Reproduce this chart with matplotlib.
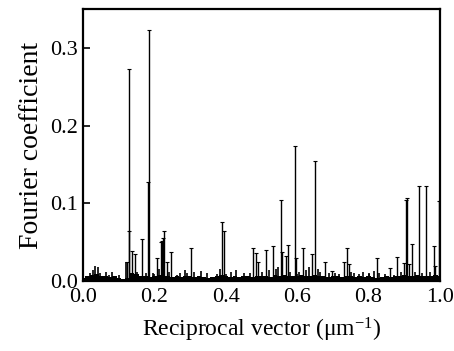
import numpy as np
import matplotlib
matplotlib.use("Agg")
import matplotlib.pyplot as plt

plt.rcParams['font.family'] = ['Liberation Serif', 'DejaVu Serif']
plt.rcParams['mathtext.fontset'] = 'custom'
plt.rcParams['mathtext.rm'] = 'Liberation Serif'
plt.rcParams['mathtext.default'] = 'regular'

# main peaks (reciprocal vector, coefficient)
peak_x = [0.124, 0.128, 0.130, 0.138, 0.146, 0.165, 0.183, 0.186, 0.206, 0.218,
          0.222, 0.225, 0.228, 0.234, 0.247, 0.303, 0.388, 0.395, 0.477, 0.485,
          0.491, 0.512, 0.533, 0.554, 0.558, 0.568, 0.573, 0.595, 0.598, 0.615,
          0.642, 0.650, 0.677, 0.697, 0.732, 0.740, 0.745, 0.823, 0.860, 0.880,
          0.898, 0.905, 0.908, 0.913, 0.921, 0.941, 0.962, 0.982, 0.987, 0.997]
peak_h = [0.025, 0.065, 0.272, 0.039, 0.035, 0.054, 0.127, 0.323, 0.030, 0.050,
          0.052, 0.055, 0.065, 0.025, 0.037, 0.043, 0.076, 0.065, 0.043, 0.036,
          0.024, 0.040, 0.045, 0.104, 0.038, 0.032, 0.047, 0.174, 0.030, 0.043,
          0.035, 0.154, 0.025, 0.013, 0.025, 0.043, 0.022, 0.030, 0.017, 0.031,
          0.023, 0.104, 0.107, 0.022, 0.048, 0.122, 0.122, 0.045, 0.020, 0.103]

# small spikes above the noise floor
small_x = [0.020, 0.027, 0.034, 0.041, 0.048, 0.064, 0.072, 0.080, 0.090, 0.100,
           0.121, 0.152, 0.175, 0.196, 0.212, 0.240, 0.262, 0.272, 0.286, 0.292,
           0.312, 0.330, 0.346, 0.375, 0.384, 0.414, 0.428, 0.450, 0.468, 0.500,
           0.520, 0.540, 0.545, 0.580, 0.605, 0.625, 0.632, 0.658, 0.665, 0.688,
           0.705, 0.718, 0.752, 0.760, 0.772, 0.784, 0.800, 0.815, 0.830, 0.845,
           0.870, 0.892, 0.930, 0.950, 0.972]
small_h = [0.010, 0.014, 0.019, 0.018, 0.011, 0.012, 0.008, 0.012, 0.007, 0.008,
           0.024, 0.012, 0.010, 0.010, 0.015, 0.012, 0.008, 0.010, 0.014, 0.011,
           0.012, 0.013, 0.011, 0.009, 0.016, 0.012, 0.014, 0.010, 0.010, 0.012,
           0.014, 0.015, 0.018, 0.012, 0.012, 0.014, 0.018, 0.015, 0.012, 0.010,
           0.010, 0.009, 0.012, 0.010, 0.009, 0.012, 0.011, 0.013, 0.010, 0.009,
           0.008, 0.012, 0.012, 0.010, 0.012]

# noise floor, every 0.0125
floor_h = [0.004, 0.006, 0.008, 0.009, 0.007, 0.006, 0.005, 0.006, 0.004, 0.003,
           0.004, 0.010, 0.009, 0.007, 0.006, 0.005, 0.006, 0.008, 0.007, 0.006,
           0.005, 0.006, 0.005, 0.006, 0.007, 0.005, 0.006, 0.005, 0.004, 0.005,
           0.006, 0.008, 0.007, 0.005, 0.006, 0.005, 0.007, 0.006, 0.005, 0.006,
           0.007, 0.006, 0.005, 0.008, 0.006, 0.008, 0.007, 0.006, 0.007, 0.008,
           0.006, 0.007, 0.008, 0.007, 0.006, 0.005, 0.007, 0.006, 0.005, 0.006,
           0.007, 0.005, 0.006, 0.005, 0.006, 0.005, 0.004, 0.005, 0.006, 0.005,
           0.006, 0.007, 0.008, 0.007, 0.006, 0.008, 0.007, 0.006, 0.007, 0.008,
           0.006]
floor_x = np.linspace(0, 1, len(floor_h))

fig = plt.figure(figsize=(4.54, 3.51), dpi=100)
ax = fig.add_axes([0.183, 0.199, 0.786, 0.776])

ax.fill_between(floor_x, 0, floor_h, step='mid', color='black', lw=0)
ax.vlines(small_x, 0, small_h, color='black', lw=1.2)
ax.vlines(peak_x, 0, peak_h, color='black', lw=1.0)
ax.plot(peak_x, peak_h, ls='none', marker='_', ms=3, mew=0.8, color='black')

ax.set_xlim(0, 1)
ax.set_ylim(0, 0.35)
ax.set_xticks([0.0, 0.2, 0.4, 0.6, 0.8, 1.0])
ax.set_yticks([0.0, 0.1, 0.2, 0.3])
ax.xaxis.set_major_formatter(matplotlib.ticker.FormatStrFormatter('%.1f'))
ax.yaxis.set_major_formatter(matplotlib.ticker.FormatStrFormatter('%.1f'))
ax.tick_params(direction='in', length=5, width=1.2, labelsize=16)
ax.tick_params(axis='x', pad=5)
ax.tick_params(axis='y', pad=4)
for s in ax.spines.values():
    s.set_linewidth(1.6)

ax.set_xlabel('Reciprocal vector (μm$^{-1}$)', fontsize=17, labelpad=6)
ax.set_ylabel('Fourier coefficient', fontsize=20, labelpad=4)

fig.savefig('out.png', dpi=100)
